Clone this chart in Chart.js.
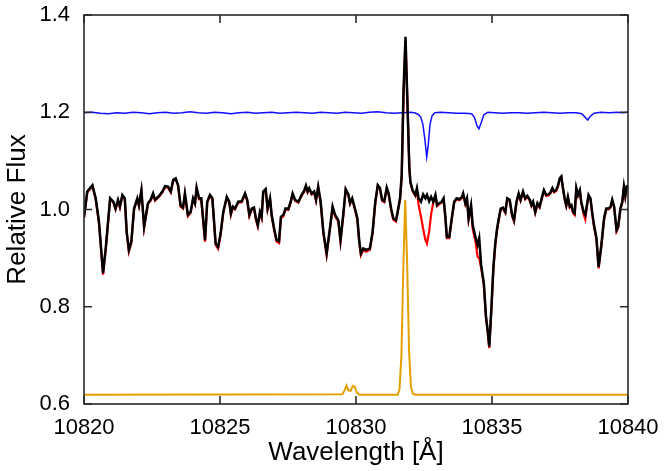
<!DOCTYPE html>
<html>
<head>
<meta charset="utf-8">
<script src="https://cdn.jsdelivr.net/npm/chart.js@4"></script>
<style>
  html, body { margin: 0; padding: 0; background: #fff; }
  #spec { display: block; }
</style>
</head>
<body>
<canvas id="spec" width="664" height="471"></canvas>
<script>
// observed spectrum (black) and model (red), same wavelength grid
const specWave = [
  10820.00, 10820.12, 10820.31, 10820.43, 10820.55, 10820.70, 10820.80, 10820.96, 10821.08, 10821.16,
  10821.25, 10821.32, 10821.41, 10821.50, 10821.57, 10821.65, 10821.74, 10821.84, 10821.96, 10822.02,
  10822.11, 10822.21, 10822.35, 10822.45, 10822.54, 10822.61, 10822.76, 10822.88, 10822.98, 10823.09,
  10823.19, 10823.28, 10823.37, 10823.46, 10823.55, 10823.64, 10823.71, 10823.82, 10823.92, 10824.01,
  10824.08, 10824.14, 10824.23, 10824.31, 10824.45, 10824.53, 10824.63, 10824.72, 10824.84, 10824.93,
  10825.02, 10825.12, 10825.25, 10825.34, 10825.40, 10825.47, 10825.55, 10825.67, 10825.80, 10825.92,
  10826.00, 10826.08, 10826.17, 10826.25, 10826.32, 10826.39, 10826.47, 10826.53, 10826.59, 10826.68,
  10826.75, 10826.84, 10826.90, 10826.99, 10827.08, 10827.17, 10827.24, 10827.33, 10827.41, 10827.51,
  10827.60, 10827.67, 10827.76, 10827.88, 10828.00, 10828.09, 10828.16, 10828.22, 10828.28, 10828.37,
  10828.46, 10828.53, 10828.61, 10828.70, 10828.80, 10828.92, 10829.04, 10829.14, 10829.23, 10829.35,
  10829.43, 10829.53, 10829.62, 10829.72, 10829.78, 10829.86, 10829.96, 10830.05, 10830.12, 10830.18,
  10830.27, 10830.37, 10830.51, 10830.61, 10830.71, 10830.80, 10830.88, 10830.96, 10831.04, 10831.13,
  10831.20, 10831.29, 10831.37, 10831.47, 10831.53, 10831.62, 10831.68, 10831.75, 10831.82, 10831.89,
  10831.96, 10832.00, 10832.08, 10832.18, 10832.24, 10832.30, 10832.39, 10832.47, 10832.55, 10832.61,
  10832.69, 10832.76, 10832.84, 10832.92, 10832.98, 10833.06, 10833.15, 10833.22, 10833.28, 10833.34,
  10833.43, 10833.51, 10833.61, 10833.70, 10833.80, 10833.90, 10833.94, 10834.02, 10834.08, 10834.14,
  10834.23, 10834.29, 10834.39, 10834.47, 10834.53, 10834.60, 10834.70, 10834.78, 10834.84, 10834.90,
  10834.98, 10835.05, 10835.12, 10835.18, 10835.25, 10835.32, 10835.40, 10835.49, 10835.56, 10835.65,
  10835.74, 10835.81, 10835.90, 10835.98, 10836.05, 10836.14, 10836.22, 10836.30, 10836.39, 10836.45,
  10836.51, 10836.59, 10836.67, 10836.75, 10836.84, 10836.91, 10836.99, 10837.08, 10837.15, 10837.22,
  10837.28, 10837.36, 10837.43, 10837.49, 10837.55, 10837.61, 10837.67, 10837.73, 10837.79, 10837.86,
  10837.92, 10837.98, 10838.04, 10838.10, 10838.16, 10838.23, 10838.28, 10838.37, 10838.43, 10838.49,
  10838.55, 10838.62, 10838.68, 10838.75, 10838.84, 10838.92, 10839.02, 10839.12, 10839.20, 10839.29,
  10839.36, 10839.42, 10839.49, 10839.58, 10839.64, 10839.72, 10839.79, 10839.85, 10839.90, 10839.96
];

const blackFlux = [
  0.985, 1.037, 1.050, 1.023, 0.975, 0.869, 0.921, 1.023, 1.016, 1.002,
  1.020, 1.006, 1.030, 1.023, 0.954, 0.917, 0.934, 1.002, 1.023, 1.009,
  1.040, 0.965, 1.013, 1.020, 1.033, 1.020, 1.028, 1.037, 1.048, 1.047,
  1.037, 1.061, 1.064, 1.050, 1.009, 1.004, 1.033, 0.989, 0.995, 1.023,
  1.013, 1.045, 1.023, 1.023, 0.937, 1.016, 1.030, 1.023, 0.930, 0.923,
  0.950, 0.995, 1.026, 1.016, 0.992, 1.006, 1.002, 1.016, 1.017, 1.033,
  1.020, 0.989, 1.002, 1.004, 0.982, 0.968, 0.995, 0.985, 1.037, 1.042,
  1.002, 1.023, 0.989, 0.961, 0.937, 0.935, 0.985, 0.989, 1.002, 1.001,
  1.016, 1.033, 1.020, 1.016, 1.030, 1.038, 1.049, 1.037, 1.044, 1.033,
  1.037, 1.020, 1.047, 1.016, 0.954, 0.910, 0.961, 1.006, 0.989, 0.978,
  0.937, 0.989, 1.042, 1.031, 1.013, 1.023, 1.002, 0.982, 0.935, 0.910,
  0.920, 0.917, 0.920, 0.954, 1.016, 1.050, 1.044, 1.020, 1.017, 1.045,
  1.033, 1.002, 0.982, 0.978, 0.995, 1.023, 1.071, 1.250, 1.355, 1.220,
  1.085, 1.057, 1.040, 1.030, 1.044, 1.023, 1.016, 1.031, 1.023, 1.030,
  1.017, 1.026, 1.016, 1.030, 1.009, 1.013, 1.016, 1.023, 0.989, 0.944,
  0.944, 0.978, 1.016, 1.023, 1.021, 1.026, 1.033, 1.013, 1.023, 0.982,
  1.009, 0.968, 0.944, 0.927, 0.941, 0.886, 0.848, 0.779, 0.752, 0.718,
  0.800, 0.880, 0.930, 0.958, 0.982, 1.002, 1.004, 0.995, 1.023, 1.020,
  0.989, 0.978, 1.016, 1.033, 1.020, 1.037, 1.023, 1.028, 1.020, 1.009,
  1.016, 0.995, 1.013, 1.006, 1.026, 1.040, 1.030, 1.031, 1.035, 1.044,
  1.037, 1.040, 1.050, 1.064, 1.068, 1.044, 1.023, 1.009, 1.026, 1.006,
  1.009, 0.995, 0.992, 1.044, 1.030, 1.040, 1.016, 0.995, 0.989, 1.009,
  1.030, 1.023, 0.995, 0.968, 0.941, 0.882, 0.927, 0.982, 1.002, 1.002,
  1.006, 1.020, 1.006, 0.958, 0.965, 1.002, 1.016, 1.047, 1.028, 1.050
];

const redFlux = [
  0.982, 1.035, 1.048, 1.021, 0.972, 0.866, 0.918, 1.021, 1.014, 1.000,
  1.018, 1.004, 1.028, 1.021, 0.951, 0.913, 0.931, 1.000, 1.021, 1.007,
  1.038, 0.962, 1.011, 1.018, 1.031, 1.018, 1.026, 1.035, 1.046, 1.045,
  1.035, 1.059, 1.062, 1.048, 1.006, 1.002, 1.031, 0.986, 0.993, 1.021,
  1.011, 1.043, 1.021, 1.021, 0.934, 1.014, 1.028, 1.021, 0.927, 0.919,
  0.947, 0.993, 1.024, 1.014, 0.989, 1.004, 1.000, 1.014, 1.015, 1.031,
  1.018, 0.986, 1.000, 1.002, 0.979, 0.965, 0.993, 0.982, 1.035, 1.040,
  1.000, 1.021, 0.986, 0.958, 0.934, 0.931, 0.982, 0.986, 1.000, 0.999,
  1.014, 1.031, 1.018, 1.014, 1.028, 1.036, 1.047, 1.035, 1.042, 1.031,
  1.035, 1.018, 1.045, 1.014, 0.951, 0.906, 0.958, 1.004, 0.986, 0.975,
  0.934, 0.986, 1.040, 1.029, 1.011, 1.021, 1.000, 0.979, 0.932, 0.906,
  0.917, 0.913, 0.917, 0.951, 1.014, 1.048, 1.042, 1.018, 1.015, 1.043,
  1.031, 1.000, 0.979, 0.975, 0.993, 1.021, 1.065, 1.240, 1.345, 1.225,
  1.090, 1.055, 1.038, 1.028, 1.040, 1.010, 0.985, 0.960, 0.938, 0.930,
  0.955, 0.990, 1.014, 1.028, 1.007, 1.011, 1.014, 1.021, 0.986, 0.941,
  0.941, 0.975, 1.014, 1.021, 1.019, 1.024, 1.031, 1.011, 1.021, 0.979,
  1.005, 0.960, 0.935, 0.903, 0.900, 0.880, 0.845, 0.776, 0.749, 0.715,
  0.797, 0.877, 0.927, 0.955, 0.979, 1.000, 1.002, 0.993, 1.021, 1.018,
  0.986, 0.975, 1.014, 1.031, 1.018, 1.035, 1.021, 1.026, 1.018, 1.007,
  1.014, 0.993, 1.011, 1.004, 1.024, 1.038, 1.028, 1.029, 1.033, 1.042,
  1.035, 1.038, 1.048, 1.062, 1.066, 1.042, 1.021, 1.007, 1.024, 1.004,
  1.007, 0.993, 0.989, 1.042, 1.028, 1.038, 1.014, 0.990, 0.980, 1.007,
  1.028, 1.021, 0.993, 0.965, 0.938, 0.879, 0.924, 0.979, 1.000, 1.000,
  1.004, 1.018, 1.004, 0.955, 0.962, 1.000, 1.014, 1.045, 1.026, 1.048
];

// telluric model (blue), shifted to 1.2
const blueWave = [
  10820.0, 10820.3, 10820.6, 10820.9, 10821.2, 10821.5, 10821.8, 10822.1, 10822.4, 10822.7,
  10823.0, 10823.3, 10823.6, 10823.9, 10824.2, 10824.5, 10824.8, 10825.1, 10825.4, 10825.7,
  10826.0, 10826.3, 10826.6, 10826.9, 10827.2, 10827.5, 10827.8, 10828.1, 10828.4, 10828.7,
  10829.0, 10829.3, 10829.6, 10829.9, 10830.2, 10830.5, 10830.8, 10831.1, 10831.4, 10831.7,
  10832.0, 10832.15, 10832.28, 10832.38, 10832.46, 10832.53, 10832.60, 10832.66, 10832.72, 10832.80,
  10832.90, 10833.1, 10833.4, 10833.7, 10834.0, 10834.25, 10834.35, 10834.45, 10834.52, 10834.60,
  10834.70, 10834.85, 10835.1, 10835.4, 10835.7, 10836.0, 10836.3, 10836.6, 10836.9, 10837.2,
  10837.5, 10837.8, 10838.1, 10838.3, 10838.42, 10838.52, 10838.62, 10838.75, 10839.0, 10839.3,
  10839.6, 10839.8, 10840.0
];
const blueFlux = [
  1.199, 1.200, 1.198, 1.197, 1.199, 1.198, 1.200, 1.199, 1.197, 1.199,
  1.200, 1.198, 1.199, 1.201, 1.199, 1.198, 1.200, 1.199, 1.197, 1.199,
  1.200, 1.198, 1.199, 1.200, 1.198, 1.199, 1.200, 1.199, 1.198, 1.200,
  1.199, 1.198, 1.200, 1.199, 1.198, 1.200, 1.201, 1.199, 1.198, 1.199,
  1.200, 1.199, 1.196, 1.190, 1.175, 1.145, 1.108, 1.135, 1.175, 1.193,
  1.199, 1.200, 1.199, 1.198, 1.198, 1.197, 1.190, 1.172, 1.166, 1.178,
  1.195, 1.200, 1.199, 1.198, 1.199, 1.199, 1.198, 1.199, 1.200, 1.199,
  1.198, 1.199, 1.199, 1.197, 1.190, 1.184, 1.192, 1.198, 1.200, 1.199,
  1.200, 1.199, 1.200
];

// emission component (orange), offset baseline
const orangeWave = [
  10820.0, 10829.50, 10829.58, 10829.65, 10829.72, 10829.80, 10829.88, 10829.95, 10830.03, 10830.12,
  10831.53, 10831.60, 10831.67, 10831.74, 10831.81, 10831.88, 10831.95, 10832.02, 10832.09, 10832.20,
  10840.0
];
const orangeFlux = [
  0.619, 0.620, 0.628, 0.638, 0.628, 0.627, 0.637, 0.636, 0.624, 0.619,
  0.619, 0.630, 0.700, 0.880, 1.020, 0.890, 0.710, 0.635, 0.621, 0.619,
  0.619
];

const xTicks = [10820, 10825, 10830, 10835, 10840];
const yTicks = [0.6, 0.8, 1.0, 1.2, 1.4];

function toPoints(xs, ys) {
  return xs.map((x, i) => ({ x: x, y: ys[i] }));
}

// box round the plot with ticks pointing inwards on all sides
const frame = {
  id: "frame",
  afterDatasetsDraw(chart) {
    const { ctx, chartArea: a, scales } = chart;
    const len = 8;
    ctx.save();
    ctx.strokeStyle = "#2a2a2a";
    ctx.lineWidth = 1.6;
    ctx.beginPath();
    xTicks.forEach(v => {
      const px = scales.x.getPixelForValue(v);
      ctx.moveTo(px, a.bottom); ctx.lineTo(px, a.bottom - len);
      ctx.moveTo(px, a.top); ctx.lineTo(px, a.top + len);
    });
    yTicks.forEach(v => {
      const py = scales.y.getPixelForValue(v);
      ctx.moveTo(a.left, py); ctx.lineTo(a.left + len, py);
      ctx.moveTo(a.right, py); ctx.lineTo(a.right - len, py);
    });
    ctx.stroke();
    ctx.strokeRect(a.left, a.top, a.right - a.left, a.bottom - a.top);
    ctx.restore();
  }
};

new Chart(document.getElementById("spec"), {
  type: "line",
  data: {
    datasets: [
      { data: toPoints(specWave, blackFlux), borderColor: "#000000", borderWidth: 2.5 },
      { data: toPoints(specWave, redFlux), borderColor: "#ff0000", borderWidth: 2.2 },
      { data: toPoints(blueWave, blueFlux), borderColor: "#1010ff", borderWidth: 1.5 },
      { data: toPoints(orangeWave, orangeFlux), borderColor: "#e69f00", borderWidth: 2 }
    ]
  },
  options: {
    responsive: false,
    animation: false,
    devicePixelRatio: 1,
    elements: { point: { radius: 0 }, line: { tension: 0, fill: false } },
    layout: { padding: { top: 15, right: 36, left: 0, bottom: 0 } },
    plugins: { legend: { display: false }, tooltip: { enabled: false } },
    scales: {
      x: {
        type: "linear",
        min: 10820,
        max: 10840,
        afterBuildTicks: s => { s.ticks = xTicks.map(v => ({ value: v })); },
        afterFit: s => { s.height = 67; s.paddingLeft = 0; s.paddingRight = 0; },
        grid: { display: false, drawTicks: false },
        border: { display: false },
        ticks: {
          padding: 11,
          maxRotation: 0,
          color: "#000",
          font: { family: "Liberation Sans", size: 22 },
          callback: v => String(v)
        },
        title: {
          display: true,
          text: "Wavelength [Å]",
          color: "#000",
          font: { family: "Liberation Sans", size: 26 },
          padding: { top: 0, bottom: 3 }
        }
      },
      y: {
        min: 0.6,
        max: 1.4,
        afterBuildTicks: s => { s.ticks = yTicks.map(v => ({ value: v })); },
        afterFit: s => { s.width = 84; s.paddingTop = 0; s.paddingBottom = 0; },
        grid: { display: false, drawTicks: false },
        border: { display: false },
        ticks: {
          padding: 14,
          color: "#000",
          font: { family: "Liberation Sans", size: 22 },
          callback: v => v.toFixed(1)
        },
        title: {
          display: true,
          text: "Relative Flux",
          color: "#000",
          font: { family: "Liberation Sans", size: 26 },
          padding: { top: 2, bottom: 0 }
        }
      }
    }
  },
  plugins: [frame]
});
</script>
</body>
</html>
